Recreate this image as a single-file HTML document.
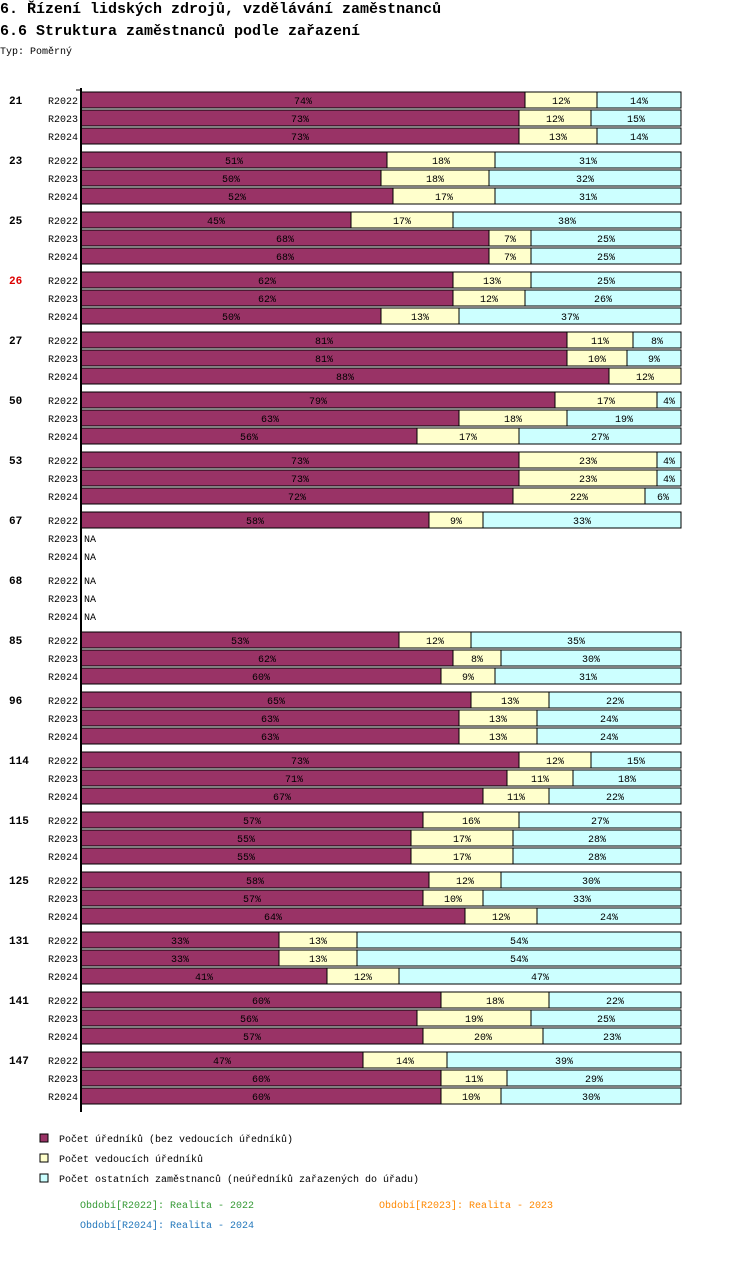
<!DOCTYPE html>
<html><head><meta charset="utf-8"><style>
body{margin:0;background:#fff;width:750px;height:1262px;overflow:hidden;font-family:"Liberation Mono",monospace}
</style></head><body>
<svg id="c" width="750" height="1262" xmlns="http://www.w3.org/2000/svg" font-family="Liberation Mono, monospace">
<text x="0" y="13" font-size="15" font-weight="bold">6. Řízení lidských zdrojů, vzdělávání zaměstnanců</text>
<text x="0" y="35" font-size="15" font-weight="bold">6.6 Struktura zaměstnanců podle zařazení</text>
<text x="0" y="54" font-size="10">Typ: Poměrný</text>
<g id="bars"></g>
<line x1="81" y1="88" x2="81" y2="1112" stroke="#000" stroke-width="2"/>
<line x1="76" y1="90" x2="81" y2="90" stroke="#000"/>
<g font-size="10">
<rect x="40" y="1134" width="8" height="8" fill="#993366" stroke="#000"/>
<text x="59" y="1142">Počet úředníků (bez vedoucích úředníků)</text>
<rect x="40" y="1154" width="8" height="8" fill="#ffffcc" stroke="#000"/>
<text x="59" y="1162">Počet vedoucích úředníků</text>
<rect x="40" y="1174" width="8" height="8" fill="#ccffff" stroke="#000"/>
<text x="59" y="1182">Počet ostatních zaměstnanců (neúředníků zařazených do úřadu)</text>
<text x="80" y="1208" fill="#339933">Období[R2022]: Realita - 2022</text>
<text x="379" y="1208" fill="#ff8800">Období[R2023]: Realita - 2023</text>
<text x="80" y="1228" fill="#2277bb">Období[R2024]: Realita - 2024</text>
</g>
</svg>
<script>
const groups=["21","23","25","26","27","50","53","67","68","85","96","114","115","125","131","141","147"];
const periods=["R2022","R2023","R2024"];
const officials=[[74,73,73],[51,50,52],[45,68,68],[62,62,50],[81,81,88],[79,63,56],[73,73,72],[58,null,null],[null,null,null],[53,62,60],[65,63,63],[73,71,67],[57,55,55],[58,57,64],[33,33,41],[60,56,57],[47,60,60]];
const managers=[[12,12,13],[18,18,17],[17,7,7],[13,12,13],[11,10,12],[17,18,17],[23,23,22],[9,null,null],[null,null,null],[12,8,9],[13,13,13],[12,11,11],[16,17,17],[12,10,12],[13,13,12],[18,19,20],[14,11,10]];
const others=[[14,15,14],[31,32,31],[38,25,25],[25,26,37],[8,9,0],[4,19,27],[4,4,6],[33,null,null],[null,null,null],[35,30,31],[22,24,24],[15,18,22],[27,28,28],[30,33,24],[54,54,47],[22,25,23],[39,29,30]];
const x0=81,W=600;
const xs=v=>x0+v/100*W;
const g=document.getElementById('bars');
const NS="http://www.w3.org/2000/svg";
const colors=["#993366","#ffffcc","#ccffff"];
const segNames=["officials","managers","others"];
function el(t,a,txt){const e=document.createElementNS(NS,t);for(const k in a)e.setAttribute(k,a[k]);if(txt!=null)e.textContent=txt;g.appendChild(e);return e;}
groups.forEach((gr,i)=>{
  const gy=92+i*60;
  const gl=el('text',{x:9,y:gy+12,'font-size':11,'font-weight':'bold',fill:gr==="26"?"#dd0000":"#000"},gr);
  
  
  periods.forEach((p,j)=>{
    const y=gy+j*18;
    const pl=el('text',{x:78,y:y+12,'font-size':10,'text-anchor':'end'},p);
    
    
    const vals=[officials[i][j],managers[i][j],others[i][j]];
    if(vals[0]==null){
      const na=el('text',{x:84,y:y+12,'font-size':10},'NA');
      
      
      return;
    }
    let acc=0;
    vals.forEach((v,k)=>{
      if(!v)return;
      const xa=xs(acc),xb=xs(acc+v);acc+=v;
      const r=el('rect',{x:xa,y:y,width:xb-xa,height:16,fill:colors[k],stroke:'#000','stroke-width':1});
      
      
      const t=el('text',{x:(xa+xb)/2,y:y+12,'font-size':10,'text-anchor':'middle'},v+'%');
      
      
    });
  });
});
</script>
</body></html>
